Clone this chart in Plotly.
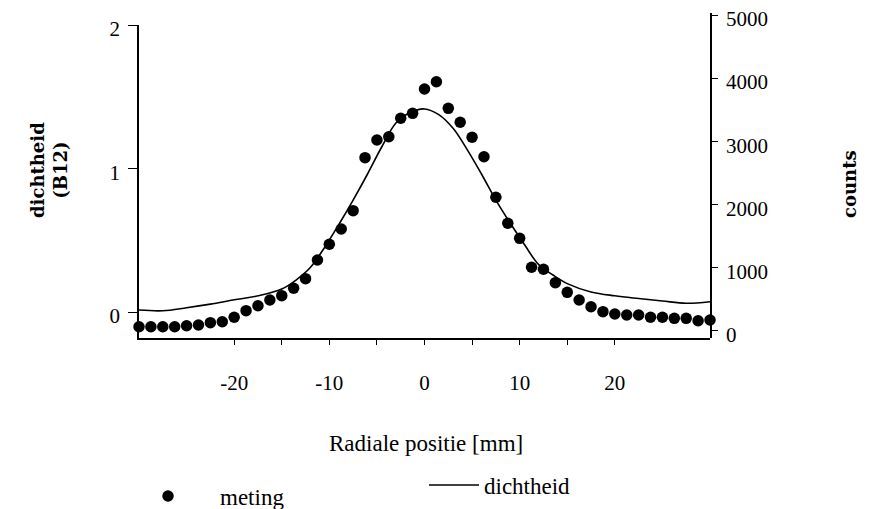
import plotly.graph_objects as go

# --- data ---
positie = [-30 + 1.25 * i for i in range(49)]  # radial positions of the measurements [mm]
meting_counts = [60, 60, 60, 60, 76, 87, 124, 139, 209, 314,
                 393, 483, 552, 669, 821, 1117, 1366, 1609, 1899, 2739,
                 3019, 3071, 3363, 3442, 3827, 3943, 3521, 3300, 3062, 2754,
                 2111, 1699, 1461, 1002, 970, 758, 605, 483, 377, 298,
                 261, 246, 246, 209, 209, 193, 193, 155, 166]

dicht_x = [-30, -27.5, -25, -22.5, -20, -17.5, -15, -13.5, -12, -10.5, -9, -7.5,
           -6, -4.5, -3, -1.5, 0, 1.5, 3, 4.5, 6, 7.5, 9, 10.5, 12, 13.5, 15,
           17.5, 20, 22.5, 25, 27.5, 30]
dicht_y = [0.014, 0.009, 0.030, 0.055, 0.085, 0.113, 0.160, 0.223, 0.310, 0.450,
           0.610, 0.780, 0.960, 1.150, 1.317, 1.390, 1.415, 1.375, 1.280, 1.130,
           0.960, 0.780, 0.620, 0.470, 0.330, 0.258, 0.198, 0.140, 0.113, 0.094,
           0.077, 0.061, 0.072]

x_ticks = [-20, -10, 0, 10, 20]
x_minor = [-15, -5, 5, 15]
y_left_ticks = [0, 1, 2]
y_right_ticks = [0, 1000, 2000, 3000, 4000, 5000]

SERIF = "Liberation Serif"
BOLD = "DejaVu Serif"

fig = go.Figure()
fig.add_trace(go.Scatter(
    x=positie, y=meting_counts, mode="markers", name="meting",
    xaxis="x", yaxis="y2", cliponaxis=False,
    marker=dict(color="black", size=11.5), legend="legend", showlegend=True,
))
fig.add_trace(go.Scatter(
    x=dicht_x, y=dicht_y, mode="lines", name="dichtheid",
    xaxis="x", yaxis="y", line=dict(color="black", width=1.6, shape="spline"),
    legend="legend2", showlegend=True,
))

W, H = 874, 509
L, R, T, B = 139, 164, 13, 171
pw = W - L - R
ph = H - T - B


def px_x(p):
    return (p - L) / pw


def px_y(p):
    return (H - B - p) / ph


fig.update_layout(
    width=W, height=H, showlegend=True,
    margin=dict(l=L, r=R, t=T, b=B, autoexpand=False),
    paper_bgcolor="white", plot_bgcolor="rgba(0,0,0,0)",
    font=dict(family=SERIF, color="black", size=21),
    xaxis=dict(
        range=[-30, 30], anchor="y", domain=[0, 1], automargin=False,
        showline=True, linecolor="black", linewidth=1.5,
        showgrid=False, zeroline=False,
        tickmode="array", tickvals=x_ticks, ticktext=[str(v) for v in x_ticks],
        ticks="outside", ticklen=5, tickcolor="black", tickwidth=1,
        minor=dict(tickmode="array", tickvals=x_minor, ticks="outside",
                   ticklen=5, tickcolor="black", tickwidth=1),
        ticklabelstandoff=20,
        tickfont=dict(family=SERIF, size=21),
    ),
    yaxis=dict(
        range=[-0.181, 2], domain=[0, (338 - 25) / ph], anchor="x", automargin=False,
        showline=True, linecolor="black", linewidth=1.5,
        showgrid=False, zeroline=False,
        tickmode="array", tickvals=y_left_ticks,
        ticks="outside", ticklen=9, tickcolor="black", tickwidth=1,
        ticklabelstandoff=4, ticklabelshift=4,
        tickfont=dict(family=SERIF, size=21),
    ),
    yaxis2=dict(
        range=[-119, 5032], domain=[0, 1], anchor="x", side="right", automargin=False,
        showline=True, linecolor="black", linewidth=1.5,
        showgrid=False, zeroline=False,
        tickmode="array", tickvals=y_right_ticks,
        ticks="outside", ticklen=6, tickcolor="black", tickwidth=1,
        ticklabelstandoff=4, ticklabelshift=4,
        tickfont=dict(family=SERIF, size=21),
    ),
    legend=dict(
        x=px_x(116), y=px_y(496), xanchor="left", yanchor="middle",
        bgcolor="rgba(0,0,0,0)", borderwidth=0, itemwidth=94,
        font=dict(family=SERIF, size=23),
    ),
    legend2=dict(
        x=px_x(424), y=px_y(485), xanchor="left", yanchor="middle",
        bgcolor="rgba(0,0,0,0)", borderwidth=0, itemwidth=50,
        font=dict(family=SERIF, size=23),
    ),
    annotations=[
        dict(text="Radiale positie [mm]", xref="paper", yref="paper",
             x=px_x(426), y=px_y(443), xanchor="center", yanchor="middle",
             showarrow=False, font=dict(family=SERIF, size=23)),
        dict(text="<b>dichtheid</b><br><b>(B12)</b>", xref="paper", yref="paper",
             x=px_x(49), y=px_y(170), xanchor="center", yanchor="middle",
             textangle=-90, showarrow=False, font=dict(family=BOLD, size=18)),
        dict(text="<b>counts</b>", xref="paper", yref="paper",
             x=px_x(849), y=px_y(184), xanchor="center", yanchor="middle",
             textangle=-90, showarrow=False, font=dict(family=BOLD, size=18)),
    ],
)

fig.write_html("out.html", config={"displayModeBar": False},
               post_script="document.body.style.margin='0';document.body.style.padding='0';")
